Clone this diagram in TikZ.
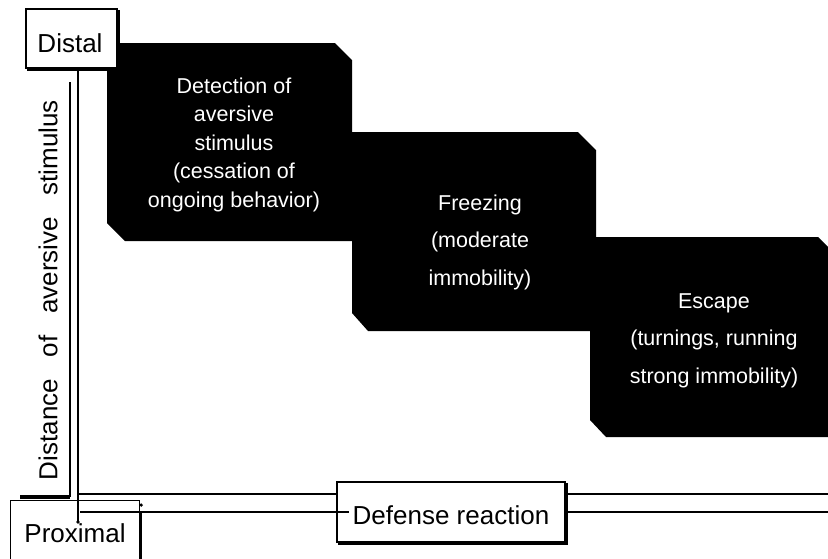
\documentclass[tikz,border=0pt]{standalone}
\usepackage{fontspec}
\setmainfont{Liberation Sans}
\usetikzlibrary{calc}
\begin{document}
\begin{tikzpicture}[x=1pt,y=-1pt,
  lab/.style={font=\fontsize{26}{30}\selectfont, inner sep=0pt},
  btext/.style={text=white, align=center, inner sep=0pt, font=\fontsize{21.5}{28.5}\selectfont},
  btextwide/.style={text=white, align=center, inner sep=0pt, font=\fontsize{21.5}{37.5}\selectfont},
  frame/.style={draw, line width=1.4pt, inner sep=0pt, fill=white},
  axis/.style={line width=1.8pt},
  shadow/.style={line width=2.6pt},
  blk/.style={fill=black}]
\useasboundingbox (0,0) rectangle (828,558);
\clip (0,0) rectangle (828,558);
\fill[white] (0,0) rectangle (828,558);

% black stage boxes
\fill[blk] (107,43) -- (335,43) -- (352,60) -- (352,241) -- (125,241) -- (107,223) -- cycle;
\fill[blk] (352,132) -- (578,132) -- (596,150) -- (596,331) -- (368,331) -- (352,313) -- cycle;
\fill[blk] (590,237) -- (818,237) -- (832,251) -- (832,437) -- (606,437) -- (590,420) -- cycle;

\node[btext] (t1) at (234,144.5) {Detection of\\aversive\\stimulus\\(cessation of\\ongoing behavior)};
\node[btextwide] (t2) at (480,242) {Freezing\\(moderate\\immobility)};
\node[btextwide] (t3) at (714,340.5) {Escape\\(turnings, running\\strong immobility)};

% Distal box
\node[frame, minimum width=91, minimum height=59] (distal) at (71.5,38.5) {};
\draw[shadow] ($(distal.south west)+(2,1)$) -- ($(distal.south east)+(1,1)$) -- ($(distal.north east)+(1,2)$);
\node[lab] (distalt) at (70,43.5) {Distal};

% axes
\coordinate (ytop) at (70,82);
\coordinate (ybot) at (70,497);
\coordinate (bar0) at (20,497);
\draw[axis] (ytop) -- (ybot);
\draw[line width=3.5pt] (bar0) -- (ybot);
\coordinate (in1) at (78,68);
\coordinate (corner) at (78,494);
\coordinate (r1) at (830,494);
\coordinate (l1) at (80,512);
\coordinate (r2) at (830,512);
\coordinate (tick) at (78,522);

\node[lab, rotate=90] (ylab) at (48,290) {\makebox[380pt][s]{Distance of aversive stimulus}};

% Proximal box
\node[draw, line width=1.2pt, inner sep=0pt, minimum width=129, minimum height=70, anchor=north west] (prox) at (10,500) {};
\draw[shadow] ($(prox.north east)+(0,12)$) -- ($(prox.south east)$);
\node[lab] (proxt) at (75,533.5) {Proximal};

% Defense reaction box
\node[frame, minimum width=228, minimum height=60] (def) at (451,512) {};
\draw[shadow] ($(def.south west)+(2,1)$) -- ($(def.south east)+(1,1)$) -- ($(def.north east)+(1,2)$);
\coordinate (dstub) at (349,512);

\draw[axis] (in1) -- (corner) -- (def.west |- corner);
\draw[axis] (def.east |- corner) -- (r1);
\draw[axis] (corner) -- (tick);
\fill (tick) circle (1.8);
\fill ($(prox.north east)+(1,5)$) circle (1.8);
\draw[axis] (l1) -- (dstub);
\draw[axis] (def.east |- l1) -- (r2);
\node[lab] (deft) at (451,515.5) {Defense reaction};
\end{tikzpicture}
\end{document}
